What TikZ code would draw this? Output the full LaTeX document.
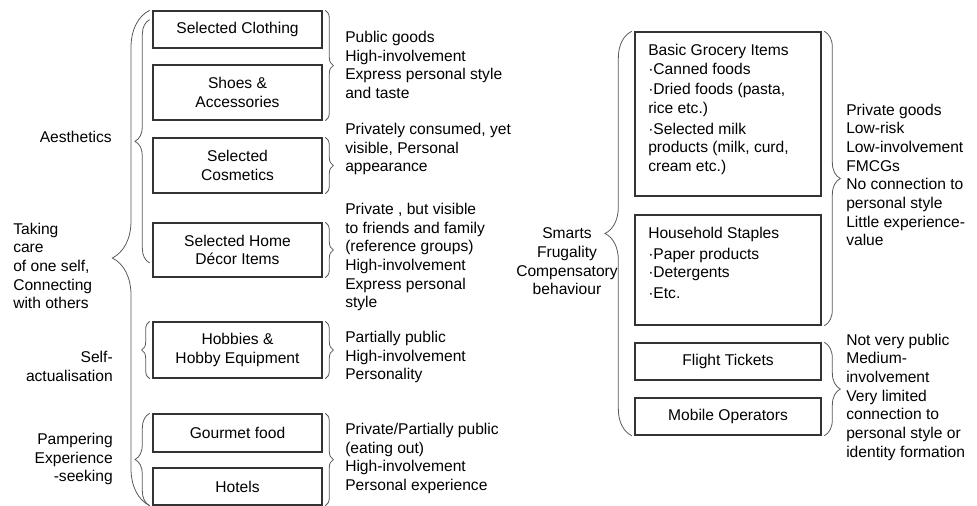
\documentclass[tikz,border=0pt]{standalone}
\usepackage{fontspec}
\setmainfont{Liberation Sans}
\usetikzlibrary{decorations.pathreplacing}
\begin{document}
\begin{tikzpicture}[x=0.75pt, y=-0.75pt,
    font=\fontsize{11.7}{14}\selectfont,
    box/.style={draw=black!80, line width=1pt, minimum width=126.75pt, align=center, inner sep=0pt},
    rbox/.style={box, minimum width=139.5pt},
    txt/.style={inner sep=0pt, align=left},
    brc/.style={draw=black!65, line width=0.6pt, decorate, decoration={brace, amplitude=#1, raise=2pt}}]
			\useasboundingbox (0,0) rectangle (977,506);
			% left column
			\node[box, minimum height=27.75pt] (clothing)  at (237.5,29.5)	{Selected Clothing};
			\node[box, minimum height=41.25pt] (shoes)     at (237.5,92.5)	{Shoes \&\\Accessories};
			\node[box, minimum height=41.25pt] (cosmetics) at (237.5,165.5)	{Selected\\Cosmetics};
			\node[box, minimum height=40.5pt]  (decor)     at (237.5,250)	{Selected Home\\Décor Items};
			\node[box, minimum height=42pt]    (hobbies)   at (237.5,350)	{Hobbies \&\\Hobby Equipment};
			\node[box, minimum height=28.5pt]  (gourmet)   at (237.5,433)	{Gourmet food};
			\node[box, minimum height=27.75pt] (hotels)    at (237.5,486.5)	{Hotels};
			% right column
			\node[rbox, minimum height=123pt]   (grocery)  at (728,114)	{};
			\node[rbox, minimum height=82.5pt]  (staples)  at (728,270)	{};
			\node[rbox, minimum height=27.75pt] (flight)   at (728,361.5)	{Flight Tickets};
			\node[rbox, minimum height=27.75pt] (mobile)   at (728,416.5)	{Mobile Operators};
			\node[txt, anchor=north west] (grocerytxt) at (648,44)
				{Basic Grocery Items\\·Canned foods\\[1.5pt]·Dried foods (pasta,\\rice etc.)\\[1.5pt]·Selected milk\\products (milk, curd,\\cream etc.)};
			\node[txt, anchor=north west] (staplestxt) at (648,227)
				{Household Staples\\[1.5pt]·Paper products\\·Detergents\\[1.5pt]·Etc.};
			%
			\node[txt, anchor=east] (aesthetics) at (112,137)	{Aesthetics};
			\node[txt, anchor=west] (takingcare) at (13,266)	{Taking\\care\\of one self,\\Connecting\\with others};
			\node[txt, anchor=east, align=right] (selfact) at (113,366.5)	{Self-\\actualisation};
			\node[txt, anchor=east, align=right] (pampering) at (113,459)	{Pampering\\Experience\\-seeking};
			\node[txt, align=center] (smarts) at (567,261.5)	{Smarts\\Frugality\\Compensatory\\behaviour};
			%
			\node[txt, anchor=west] (publictxt) at (345,65)	{Public goods\\High-involvement\\Express personal style\\and taste};
			\node[txt, anchor=west] (cosmtxt)   at (345,149)	{Privately consumed, yet\\visible, Personal\\appearance};
			\node[txt, anchor=west] (decortxt)  at (345,257)	{Private , but visible\\to friends and family\\(reference groups)\\High-involvement\\Express personal\\style};
			\node[txt, anchor=west] (hobbytxt)  at (345,357)	{Partially public\\High-involvement\\Personality};
			\node[txt, anchor=west] (gourmettxt) at (345,458.5)	{Private/Partially public\\(eating out)\\High-involvement\\Personal experience};
			\node[txt, anchor=west] (privtxt)   at (846,175)	{Private goods\\Low-risk\\Low-involvement\\FMCGs\\No connection to\\personal style\\Little experience-\\value};
			\node[txt, anchor=west] (notvtxt)   at (846,397)	{Not very public\\Medium-\\involvement\\Very limited\\connection to\\personal style or\\identity formation};
			%
			\def\leftbraces {hotels.south west/clothing.north west/28pt, hobbies.south west/hobbies.north west/6pt,
      hotels.south west/gourmet.north west/11pt, mobile.south west/grocery.north west/20pt}  % pointing left
			\foreach \u/\v/\amp in \leftbraces
			{	\draw[brc=\amp] (\u) -- (\v);
			}
			\def\rightbraces {clothing.north east/shoes.south east/6pt, cosmetics.north east/cosmetics.south east/6pt,
      decor.north east/decor.south east/6pt, hobbies.north east/hobbies.south east/6pt,
      gourmet.north east/hotels.south east/6pt, grocery.north east/staples.south east/12pt,
      flight.north east/mobile.south east/12pt}  % pointing right
			\foreach \u/\v\amp in \rightbraces
			{	\draw[brc=\amp] (\u) -- (\v);
			}
			\draw[brc=11pt] ([yshift=11pt]decor.south west) -- ([yshift=-7pt]clothing.north west);
		\end{tikzpicture}
\end{document}
